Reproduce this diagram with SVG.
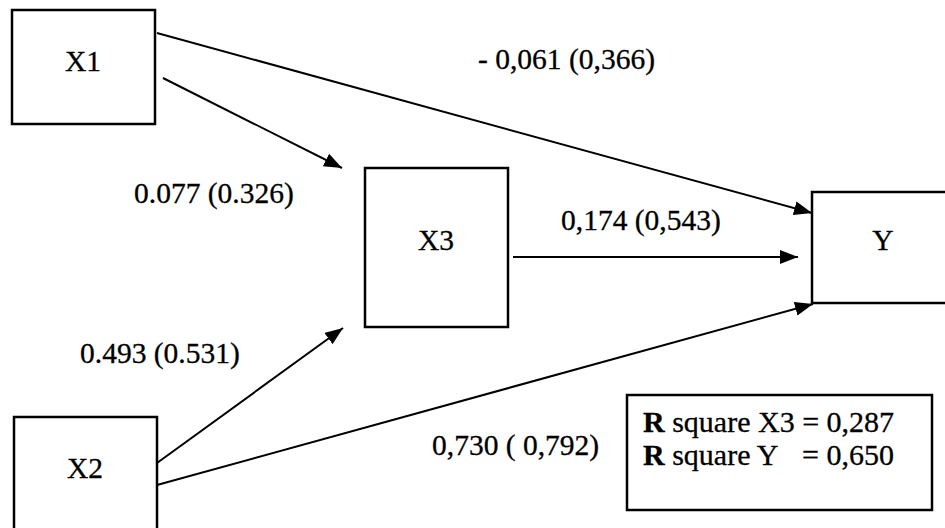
<svg xmlns="http://www.w3.org/2000/svg" width="945" height="528" viewBox="0 0 945 528">
<style>
.box{fill:#fff;stroke:#000;stroke-width:2.5}
.lbl{font-family:"Liberation Serif","Times New Roman",serif;font-size:29.5px;fill:#000;stroke:#000;stroke-width:0.3}
.big{font-size:30px}
.mid{text-anchor:middle}
.edge{stroke:#000;stroke-width:2;fill:none;marker-end:url(#ah)}
</style>
<defs>
<marker id="ah" markerUnits="userSpaceOnUse" markerWidth="20" markerHeight="14" refX="18" refY="7" orient="auto">
<path d="M0,0 L18,7 L0,14 Z" fill="#000"/>
</marker>
</defs>
<rect width="945" height="528" fill="#fff"/>
<g id="connectors">
<line class="edge" x1="157" y1="33" x2="812" y2="213"/>
<line class="edge" x1="163" y1="78" x2="342" y2="168"/>
<line class="edge" x1="513" y1="257" x2="798" y2="257"/>
<line class="edge" x1="157" y1="463" x2="343" y2="328"/>
<line class="edge" x1="157" y1="485" x2="813" y2="304"/>
<text class="lbl" x="478" y="69">- 0,061 (0,366)</text>
<text class="lbl" x="134" y="203">0.077 (0.326)</text>
<text class="lbl" x="561" y="230">0,174 (0,543)</text>
<text class="lbl" x="80" y="363">0.493 (0.531)</text>
<text class="lbl" x="432" y="455">0,730 ( 0,792)</text>
</g>
<g id="X1">
<rect class="box" x="12" y="10" width="143" height="114"/>
<text class="lbl mid" x="83" y="71">X1</text>
</g>
<g id="X3">
<rect class="box" x="365" y="168" width="143" height="159"/>
<text class="lbl mid" x="436" y="250">X3</text>
</g>
<g id="Y">
<rect class="box" x="812" y="192" width="150" height="111"/>
<text class="lbl mid" x="883" y="250">Y</text>
</g>
<g id="X2">
<rect class="box" x="14" y="417" width="143" height="130"/>
<text class="lbl mid" x="85" y="478">X2</text>
</g>
<g id="rsquare">
<rect class="box" x="627" y="395" width="305" height="115"/>
<text class="lbl big" x="643" y="432"><tspan font-weight="bold">R</tspan> square X3 = 0,287</text>
<text class="lbl big" x="643" y="465"><tspan font-weight="bold">R</tspan> square Y<tspan x="802">= 0,650</tspan></text>
</g>
</svg>
